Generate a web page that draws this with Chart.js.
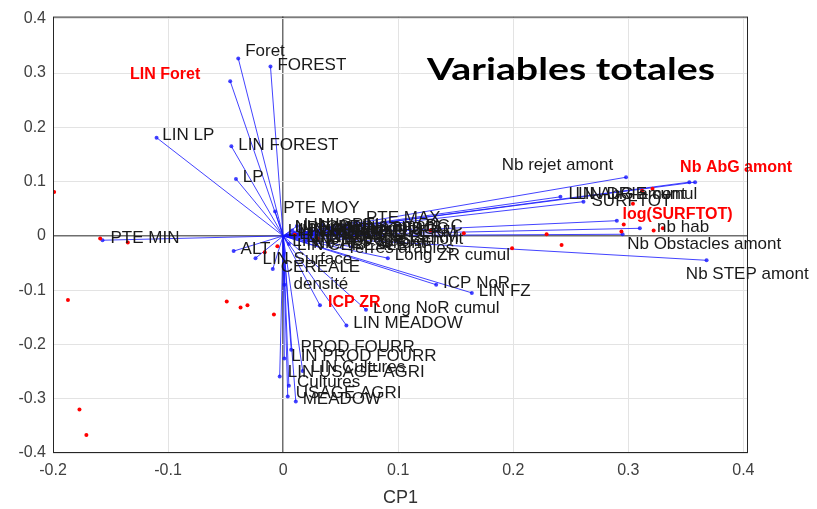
<!DOCTYPE html>
<html>
<head>
<meta charset="utf-8">
<script src="https://cdn.jsdelivr.net/npm/chart.js@4/dist/chart.umd.min.js"></script>
<style>
  html, body { margin: 0; padding: 0; background: #fff; }
  #wrap { width: 817px; height: 509px; position: relative; }
</style>
</head>
<body>
<div id="wrap"><canvas id="biplot"></canvas></div>
<script>
// loadings (end of each blue vector) and where MATLAB put its label
const varNames = [
  "Foret", "FOREST", "LIN Foret", "LIN LP", "LIN FOREST", "LP", "PTE MOY", "PTE MIN", "PTE MAX",
  "Nb rejet amont", "Nb AbG amont", "LIN AbG amont", "LIN DRIE cumul", "SURFTOT", "log(SURFTOT)", "nb hab",
  "Nb Obstacles amont", "Nb STEP amont", "ICP NoR", "LIN FZ", "Long ZR cumul", "Long NoR cumul",
  "LIN MEADOW", "ICP ZR", "densité", "CEREALE", "PROD FOURR", "LIN PROD FOURR", "LIN Cultures",
  "LIN USAGE AGRI", "Cultures", "USAGE AGRI", "MEADOW",
  "ALT", "LIN Surface", "Terres arables", "LIN Terres arables", "LIN URBAIN", "URBAIN", "LIN VIGNE",
  "VIGNE", "Nb ICPE amont", "LIN PRAIRIE PERM", "PRAIRIE PERM", "Long BGC", "Nb seuils amont", "LIN CEREALE",
  "LIN ICPE", "Nb barrages amont", "LIN SAU", "SAU", "LIN Long BGC", "Nb AEP amont", "LIN Surface eau"
];
const varX = [
  -0.039, -0.011, -0.046, -0.110, -0.045, -0.041, -0.007, -0.157, 0.064,
  0.298, 0.358, 0.353, 0.241, 0.261, 0.290, 0.310,
  0.295, 0.368, 0.133, 0.164, 0.091, 0.072,
  0.055, 0.032, 0.001, -0.009, 0.007, 0.001, 0.017,
  -0.003, 0.005, 0.004, 0.011,
  -0.043, -0.024, 0.060, 0.030, 0.010, 0.015, 0.020,
  0.030, 0.040, 0.050, 0.060, 0.110, 0.035, 0.005,
  0.012, 0.025, 0.045, 0.070, 0.085, 0.020, 0.008
];
const varY = [
  0.327, 0.312, 0.285, 0.181, 0.165, 0.105, 0.045, -0.008, 0.026,
  0.108, 0.099, 0.099, 0.072, 0.063, 0.028, 0.014,
  0.003, -0.045, -0.090, -0.105, -0.041, -0.136,
  -0.165, -0.128, -0.090, -0.061, -0.210, -0.226, -0.249,
  -0.259, -0.276, -0.296, -0.305,
  -0.028, -0.041, -0.020, -0.008, 0.005, 0.012, 0.002,
  0.008, 0.015, 0.000, 0.010, 0.012, 0.020, -0.015,
  0.018, -0.004, 0.006, 0.004, 0.016, -0.010, 0.010
];
const labelX = [
  -0.033, -0.005, -0.133, -0.105, -0.039, -0.035, 0.000, -0.150, 0.072,
  0.190, 0.345, 0.248, 0.254, 0.268, 0.295, 0.325,
  0.299, 0.350, 0.139, 0.170, 0.097, 0.078,
  0.061, 0.039, 0.009, -0.002, 0.015, 0.007, 0.024,
  0.004, 0.012, 0.011, 0.017,
  -0.037, -0.018, 0.055, 0.008, 0.004, 0.010, 0.014,
  0.030, 0.010, 0.020, 0.045, 0.075, 0.030, 0.012,
  0.018, 0.030, 0.050, 0.076, 0.060, 0.026, 0.014
];
const labelY = [
  0.340, 0.314, 0.298, 0.185, 0.167, 0.107, 0.050, -0.005, 0.032,
  0.130, 0.125, 0.077, 0.077, 0.063, 0.039, 0.015,
  -0.015, -0.070, -0.087, -0.103, -0.036, -0.134,
  -0.161, -0.123, -0.090, -0.057, -0.205, -0.221, -0.243,
  -0.252, -0.270, -0.290, -0.301,
  -0.025, -0.043, -0.023, -0.010, 0.008, 0.014, 0.002,
  0.010, 0.016, -0.003, 0.006, 0.012, 0.020, -0.018,
  0.019, -0.006, 0.004, 0.001, 0.017, -0.014, 0.011
];
const redLabels = ["LIN Foret", "Nb AbG amont", "log(SURFTOT)", "ICP ZR"];

// scores (red observations)
const obsX = [
  -0.199, -0.187, -0.177, -0.171, -0.159, -0.135, -0.049, -0.037, -0.031, -0.008,
  -0.016, -0.005, 0.010, 0.030, 0.064, 0.128, 0.157, 0.229, 0.199, 0.242,
  0.296, 0.294, 0.322, 0.330, 0.304, 0.312, 0.321
];
const obsY = [
  0.081, -0.118, -0.320, -0.367, -0.005, -0.012, -0.121, -0.132, -0.128, -0.145,
  -0.030, -0.019, 0.002, -0.005, -0.003, 0.010, 0.005, 0.003, -0.023, -0.017,
  0.021, 0.008, 0.010, 0.014, 0.059, 0.083, 0.087
];

const xTicks = [-0.2, -0.1, 0, 0.1, 0.2, 0.3, 0.4];
const yTicks = [-0.4, -0.3, -0.2, -0.1, 0, 0.1, 0.2, 0.3, 0.4];
const chartTitle = "Variables totales";
const xTitle = "CP1";

const BLUE = "rgba(20, 20, 255, 0.8)";
const RED = "#ff0000";

const vectorSets = varNames.map((name, i) => ({
  label: name,
  data: [{ x: 0, y: 0 }, { x: varX[i], y: varY[i] }],
  showLine: true,
  borderColor: BLUE,
  borderWidth: 1,
  pointRadius: [0, 2],
  pointBackgroundColor: BLUE,
  pointBorderWidth: 0,
  order: 2,
}));

const obsSet = {
  label: "obs",
  data: obsX.map((x, i) => ({ x, y: obsY[i] })),
  pointRadius: 2,
  pointBackgroundColor: RED,
  pointBorderWidth: 0,
  showLine: false,
  order: 1,
};

const textPlugin = {
  id: "biplotText",
  afterDatasetsDraw(chart) {
    const { ctx, scales, chartArea } = chart;
    ctx.save();
    ctx.textBaseline = "middle";
    ctx.textAlign = "left";
    varNames.forEach((name, i) => {
      const red = redLabels.includes(name);
      ctx.font = red ? "bold 16px 'Liberation Sans', Arial" : "17px 'Liberation Sans', Arial";
      ctx.fillStyle = red ? RED : "#1a1a1a";
      ctx.fillText(name, scales.x.getPixelForValue(labelX[i]), scales.y.getPixelForValue(labelY[i]));
    });
    // box
    ctx.strokeStyle = "#262626";
    ctx.lineWidth = 1;
    ctx.strokeRect(chartArea.left + 0.5, chartArea.top + 0.5, chartArea.width - 1, chartArea.height - 1);
    // title, stretched like the pasted text box of the original slide
    ctx.font = "bold 30px Lato, 'Open Sans', sans-serif";
    ctx.fillStyle = "#000";
    const w = ctx.measureText(chartTitle).width;
    ctx.translate(427, 70);
    ctx.scale(288 / w, 1);
    ctx.fillText(chartTitle, 0, 0);
    ctx.restore();
  },
};

const isZero = (v) => Math.abs(v) < 1e-9;

new Chart(document.getElementById("biplot"), {
  type: "scatter",
  data: { datasets: [obsSet, ...vectorSets] },
  plugins: [textPlugin],
  options: {
    responsive: true,
    maintainAspectRatio: false,
    animation: false,
    layout: { padding: { top: 12, right: 69, left: 0, bottom: 0 } },
    plugins: { legend: { display: false }, tooltip: { enabled: false } },
    scales: {
      x: {
        type: "linear",
        min: -0.2,
        max: 0.404,
        afterBuildTicks: (s) => { s.ticks = xTicks.map((v) => ({ value: v })); },
        afterFit: (s) => { s.height = 56; },
        ticks: {
          color: "#404040",
          font: { family: "'Liberation Sans', Arial", size: 16 },
          padding: 8,
          maxRotation: 0,
          callback: (v) => String(Number(v.toFixed(1))),
        },
        grid: {
          drawTicks: false,
          color: (c) => (isZero(c.tick.value) ? "#6e6e6e" : "#e3e3e3"),
          lineWidth: (c) => (isZero(c.tick.value) ? 1.5 : 1),
        },
        border: { display: false },
        title: {
          display: true,
          text: xTitle,
          color: "#333",
          font: { family: "'Liberation Sans', Arial", size: 18 },
          padding: { top: 0, bottom: 0 },
        },
      },
      y: {
        type: "linear",
        min: -0.4,
        max: 0.404,
        afterBuildTicks: (s) => { s.ticks = yTicks.map((v) => ({ value: v })); },
        afterFit: (s) => { s.width = 53; },
        ticks: {
          color: "#404040",
          font: { family: "'Liberation Sans', Arial", size: 16 },
          padding: 7,
          callback: (v) => String(Number(v.toFixed(1))),
        },
        grid: {
          drawTicks: false,
          color: (c) => (isZero(c.tick.value) ? "#6e6e6e" : "#e3e3e3"),
          lineWidth: (c) => (isZero(c.tick.value) ? 1.5 : 1),
        },
        border: { display: false },
      },
    },
  },
});
</script>
</body>
</html>
